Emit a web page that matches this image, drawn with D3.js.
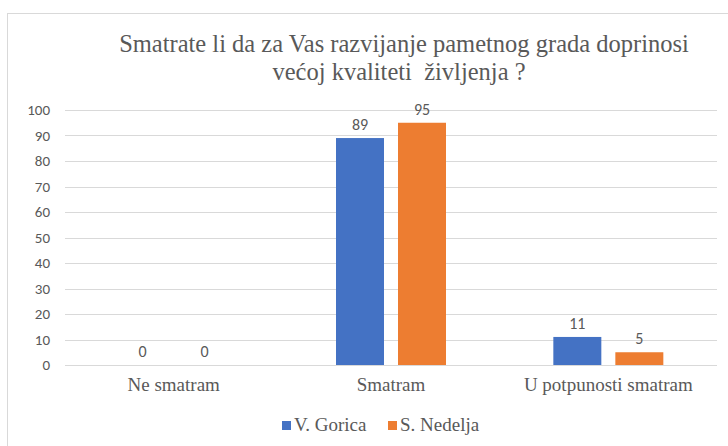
<!DOCTYPE html>
<html>
<head>
<meta charset="utf-8">
<script src="https://cdn.jsdelivr.net/npm/d3@7"></script>
<style>
  body { margin: 0; background: #fff; }
  svg { display: block; }
  .serif { font-family: "Liberation Serif", "DejaVu Serif", serif; }
  .sans { font-family: Carlito, "Open Sans", sans-serif; }
</style>
</head>
<body>
<svg id="chart" width="728" height="446"></svg>
<script>
// chart data
const categories = ["Ne smatram", "Smatram", "U potpunosti smatram"];
const seriesNames = ["V. Gorica", "S. Nedelja"];
const vGorica = [0, 89, 11];
const sNedelja = [0, 95, 5];
const yTicks = [0, 10, 20, 30, 40, 50, 60, 70, 80, 90, 100];
const titleLines = ["Smatrate li da za Vas razvijanje pametnog grada doprinosi", "većoj kvaliteti  življenja ?"];

const colors = ["#4472C4", "#ED7D31"];
const series = [vGorica, sNedelja];

const svg = d3.select("#chart");

// outer frame (chart area border)
svg.append("rect")
    .attr("x", 7.5).attr("y", 13.5)
    .attr("width", 740).attr("height", 460)
    .attr("fill", "none")
    .attr("stroke", "#d9d9d9");

// title
svg.append("g").selectAll("text")
    .data(titleLines)
    .enter().append("text")
    .attr("class", "serif")
    .attr("x", (d, i) => i === 0 ? 404 : 399)
    .attr("y", (d, i) => 52 + i * 28)
    .attr("text-anchor", "middle")
    .attr("font-size", 24.5)
    .attr("fill", "#595959")
    .style("white-space", "pre")
    .text(d => d);

const margin = { left: 65, right: 11, top: 110, bottom: 81 };
const width = 728 - margin.left - margin.right;
const height = 446 - margin.top - margin.bottom;

const g = svg.append("g").attr("transform", `translate(${margin.left},${margin.top})`);

const x0 = d3.scaleBand().domain(categories).range([0, width]).padding(0);
const x1 = d3.scaleBand().domain(seriesNames)
    .range([x0.bandwidth() / 2 - 55, x0.bandwidth() / 2 + 55])
    .paddingInner(0.226).paddingOuter(0);
const y = d3.scaleLinear().domain([0, 100]).range([height, 0]);

// gridlines
g.append("g").selectAll("line")
    .data(yTicks)
    .enter().append("line")
    .attr("x1", 0).attr("x2", width)
    .attr("y1", d => Math.round(y(d)) + 0.5)
    .attr("y2", d => Math.round(y(d)) + 0.5)
    .attr("stroke", "#d9d9d9")
    .attr("stroke-width", 1);

// y axis labels
const yAxis = g.append("g")
    .call(d3.axisLeft(y).tickValues(yTicks).tickSize(0).tickPadding(15));
yAxis.select(".domain").remove();
yAxis.attr("font-family", null);
yAxis.selectAll("text")
    .attr("class", "sans")
    .attr("font-size", 15)
    .attr("fill", "#595959");

// bars
const rows = categories.map((c, i) => ({ cat: c, vals: series.map((s, j) => ({ name: seriesNames[j], value: s[i], color: colors[j] })) }));

const groups = g.selectAll(".grp")
    .data(rows)
    .enter().append("g")
    .attr("class", "grp")
    .attr("transform", d => `translate(${x0(d.cat)},0)`);

groups.selectAll("rect")
    .data(d => d.vals)
    .enter().append("rect")
    .attr("x", d => x1(d.name))
    .attr("y", d => y(d.value))
    .attr("width", x1.bandwidth())
    .attr("height", d => height - y(d.value))
    .attr("fill", d => d.color);

// data labels
groups.selectAll("text")
    .data(d => d.vals)
    .enter().append("text")
    .attr("class", "sans")
    .attr("x", d => x1(d.name) + x1.bandwidth() / 2)
    .attr("y", d => y(d.value) - 8)
    .attr("text-anchor", "middle")
    .attr("font-size", 16)
    .attr("fill", "#595959")
    .text(d => d.value);

// x axis labels
const xAxis = g.append("g")
    .attr("transform", `translate(0,${height})`)
    .call(d3.axisBottom(x0).tickSize(0).tickPadding(13));
xAxis.select(".domain").remove();
xAxis.attr("font-family", null);
xAxis.selectAll("text")
    .attr("class", "serif")
    .attr("font-size", 19)
    .attr("fill", "#595959");

// legend
const legendX = [282, 388];
const legend = svg.append("g").selectAll("g")
    .data(seriesNames)
    .enter().append("g")
    .attr("transform", (d, i) => `translate(${legendX[i]},421)`);
legend.append("rect")
    .attr("width", 9).attr("height", 9)
    .attr("y", 0)
    .attr("fill", (d, i) => colors[i]);
legend.append("text")
    .attr("class", "serif")
    .attr("x", 12).attr("y", 10)
    .attr("font-size", 19)
    .attr("fill", "#595959")
    .text(d => d);
</script>
</body>
</html>
